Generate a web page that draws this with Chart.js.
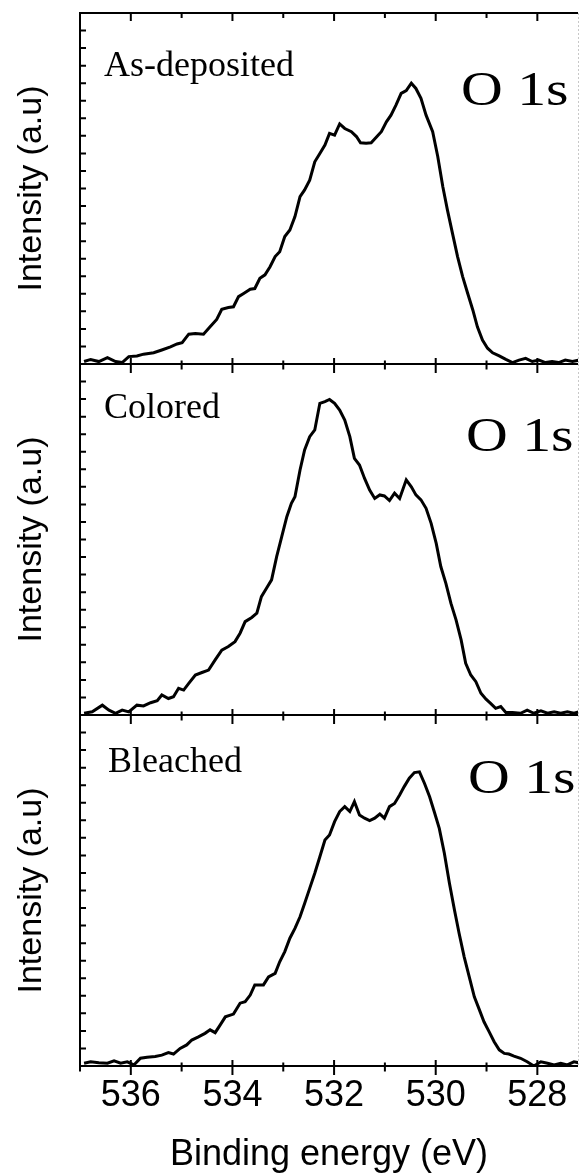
<!DOCTYPE html>
<html><head><meta charset="utf-8">
<script src="https://cdn.jsdelivr.net/npm/chart.js@4/dist/chart.umd.min.js"></script>
<style>
html,body{margin:0;padding:0;background:#fff;width:579px;height:1175px;overflow:hidden}
canvas{position:absolute;left:0;top:0}
</style></head>
<body>
<canvas id="c1" width="579" height="1175"></canvas>
<canvas id="c2" width="579" height="1175"></canvas>
<canvas id="c3" width="579" height="1175"></canvas>
<script>
// ---- data (binding energy in eV, intensity in a.u.) ----
const asDepositedEnergy = [536.92,536.79,536.63,536.46,536.30,536.17,536.04,535.88,535.75,535.55,535.39,535.22,535.09,534.99,534.86,534.73,534.57,534.44,534.31,534.21,534.08,533.98,533.88,533.78,533.65,533.56,533.46,533.36,533.26,533.16,533.07,532.97,532.87,532.77,532.67,532.58,532.48,532.38,532.28,532.18,532.09,531.99,531.89,531.79,531.66,531.56,531.48,531.37,531.27,531.17,531.07,530.97,530.88,530.78,530.68,530.58,530.48,530.39,530.29,530.19,530.06,529.96,529.86,529.77,529.67,529.57,529.47,529.37,529.27,529.18,529.08,528.98,528.88,528.75,528.62,528.49,528.36,528.23,528.10,527.97,527.84,527.71,527.58,527.45,527.31,527.18];
const asDepositedIntensity = [0.7,1.3,0.7,1.8,0.7,0.4,2.1,2.3,2.8,3.2,4.0,4.9,5.7,6.1,8.5,8.7,8.5,10.6,12.7,15.6,16.1,16.3,19.2,20.1,21.3,21.5,24.4,25.4,27.7,30.6,32.0,36.3,38.2,42.0,47.7,49.6,52.4,57.6,60.0,62.4,65.7,65.2,68.4,67.1,66.2,64.8,63.0,62.9,63.0,64.6,66.2,69.0,70.9,73.8,77.1,77.9,80.0,78.5,75.7,70.9,66.2,59.1,50.5,43.9,37.2,30.6,24.9,20.1,15.4,10.6,6.8,4.5,3.2,2.3,1.3,0.4,1.1,1.6,0.7,1.1,0.4,0.7,0.4,1.1,0.7,1.1];

const coloredEnergy = [536.92,536.76,536.56,536.43,536.30,536.17,536.04,535.88,535.75,535.61,535.48,535.39,535.26,535.16,535.06,534.96,534.86,534.73,534.60,534.47,534.34,534.21,534.08,533.95,533.85,533.75,533.62,533.52,533.43,533.33,533.23,533.13,533.03,532.93,532.84,532.77,532.67,532.58,532.48,532.38,532.28,532.18,532.09,531.99,531.89,531.79,531.69,531.60,531.50,531.40,531.30,531.20,531.10,531.01,530.91,530.81,530.71,530.58,530.48,530.39,530.29,530.19,530.09,529.99,529.90,529.80,529.70,529.60,529.50,529.41,529.31,529.21,529.11,529.01,528.92,528.82,528.72,528.62,528.49,528.33,528.20,528.07,527.93,527.80,527.67,527.54,527.41,527.28,527.18];
const coloredIntensity = [0.5,0.9,2.8,1.4,0.5,1.4,0.9,2.8,2.6,3.5,4.1,5.7,4.7,5.2,7.6,7.1,9.0,11.4,12.1,12.8,15.7,18.5,19.5,20.9,23.3,26.6,27.8,29.0,33.7,36.1,38.5,45.1,50.8,56.5,60.3,62.2,69.8,75.5,79.3,81.2,88.8,89.3,89.9,88.8,86.9,84.0,79.3,73.1,71.2,67.4,64.1,61.7,62.7,62.4,61.1,63.2,61.7,67.0,65.0,62.7,61.3,58.9,54.6,48.9,42.3,37.5,31.8,27.1,21.4,14.7,11.4,9.5,6.2,4.5,3.3,1.9,2.4,0.7,0.7,0.5,1.4,0.5,1.2,0.5,0.9,0.5,0.9,0.5,0.9];

const bleachedEnergy = [536.92,536.79,536.63,536.46,536.33,536.20,536.07,535.94,535.81,535.68,535.52,535.39,535.26,535.16,535.03,534.90,534.80,534.67,534.54,534.44,534.34,534.24,534.14,533.98,533.85,533.75,533.65,533.56,533.39,533.29,533.16,533.07,532.97,532.87,532.77,532.67,532.58,532.48,532.38,532.28,532.18,532.09,531.99,531.89,531.79,531.69,531.60,531.50,531.40,531.30,531.20,531.10,531.01,530.91,530.81,530.71,530.62,530.52,530.42,530.32,530.22,530.12,530.03,529.93,529.83,529.73,529.63,529.54,529.44,529.34,529.24,529.14,529.05,528.95,528.85,528.75,528.65,528.56,528.46,528.33,528.20,528.07,527.93,527.80,527.67,527.54,527.41,527.28,527.18];
const bleachedIntensity = [0.8,1.2,0.9,0.8,1.5,0.8,1.2,0.3,2.2,2.5,2.7,3.1,3.8,3.4,5.0,6.0,7.4,8.3,9.3,10.3,9.5,11.7,14.0,14.8,17.9,18.3,20.2,23.1,23.1,25.4,26.4,29.7,32.6,36.4,39.2,42.5,46.3,50.6,54.9,59.6,64.4,65.8,69.6,72.5,73.9,72.5,75.3,71.5,70.6,69.9,70.6,71.8,70.6,73.9,74.8,77.2,79.6,82.0,83.6,83.8,80.5,76.7,72.5,67.7,60.6,52.1,44.4,37.8,31.1,25.4,19.7,16.0,12.6,9.8,6.9,4.6,3.6,3.4,2.8,2.2,1.2,0.0,1.2,0.8,0.3,0.8,0.3,1.2,0.9];

const sampleNames = ['As-deposited', 'Colored', 'Bleached'];
const peakName = 'O 1s';
const xTickLabels = [536, 534, 532, 530, 528];
const xTitle = 'Binding energy (eV)';
const yTitle = 'Intensity (a.u)';
const energyMin = 527.2, energyMax = 537.0;
const intensityMin = 0, intensityMax = 100;

// ---- layout / style (not data) ----
const W = 579, H = 1175;
const panelBox = [{top: 13, bottom: 364}, {top: 364, bottom: 715}, {top: 715, bottom: 1066}];
const sampleLabelPos = [{dx: 24, dy: 63}, {dx: 24, dy: 54}, {dx: 28, dy: 57}];
const peakLabelPos = [{x: 461, y: 105}, {x: 466, y: 451}, {x: 468, y: 793}];
const SANS = '"Liberation Sans", Arial, Helvetica, sans-serif';
const SERIF = '"Liberation Serif", "Times New Roman", Times, serif';

const seriesList = [
  [asDepositedEnergy, asDepositedIntensity],
  [coloredEnergy, coloredIntensity],
  [bleachedEnergy, bleachedIntensity]
];

const framePlugin = {
  id: 'frame',
  afterDatasetsDraw(chart, args, opts) {
    const {ctx, chartArea: {left, right, top, bottom}, scales: {x, y}} = chart;
    ctx.save();
    ctx.strokeStyle = '#000';
    ctx.lineWidth = 2;
    ctx.beginPath();
    ctx.moveTo(left, top - (opts.first ? 1 : 0)); ctx.lineTo(left, bottom + 1);
    ctx.moveTo(left - 1, bottom); ctx.lineTo(right, bottom);
    if (opts.first) { ctx.moveTo(left - 1, top); ctx.lineTo(right, top); }
    for (let e = Math.ceil(x.min); e <= Math.floor(x.max); e++) {
      const px = x.getPixelForValue(e);
      const major = e % 2 === 0;
      ctx.moveTo(px, bottom - (major ? 6 : 3.5));
      ctx.lineTo(px, bottom + (major ? 9 : 5.5));
      if (opts.first) { ctx.moveTo(px, top); ctx.lineTo(px, top + (major ? 8 : 5)); }
    }
    for (let v = intensityMin + 5; v < intensityMax; v += 5) {
      const py = y.getPixelForValue(v);
      ctx.moveTo(left, py); ctx.lineTo(left + 6, py);
    }
    ctx.stroke();
    // faint right frame (cropped at image edge)
    ctx.strokeStyle = '#c8c8c8';
    ctx.lineWidth = 1;
    ctx.setLineDash([2, 2]);
    ctx.beginPath();
    ctx.moveTo(right + 0.5, top); ctx.lineTo(right + 0.5, bottom);
    ctx.stroke();
    ctx.setLineDash([]);
    // texts
    ctx.fillStyle = '#000';
    ctx.textBaseline = 'alphabetic';
    ctx.textAlign = 'left';
    ctx.font = '36px ' + SERIF;
    const sp = sampleLabelPos[opts.index];
    ctx.fillText(sampleNames[opts.index], left + sp.dx, top + sp.dy);
    const pp = peakLabelPos[opts.index];
    ctx.font = '49px ' + SERIF;
    ctx.translate(pp.x, pp.y);
    ctx.scale(1.18, 1);
    ctx.fillText(peakName, 0, 0);
    ctx.restore();
  }
};

function makeChart(i) {
  const [energies, intens] = seriesList[i];
  const pts = energies.map((e, k) => ({x: e, y: intens[k]}));
  const box = panelBox[i];
  const last = i === 2;
  return new Chart(document.getElementById('c' + (i + 1)), {
    type: 'line',
    data: {datasets: [{data: pts, borderColor: '#000', borderWidth: 3, pointRadius: 0, tension: 0, fill: false}]},
    plugins: [framePlugin],
    options: {
      responsive: false, animation: false, devicePixelRatio: 1,
      layout: {padding: {top: box.top, bottom: last ? 0 : H - box.bottom, left: 0, right: 1}},
      plugins: {legend: {display: false}, tooltip: {enabled: false}, frame: {index: i, first: i === 0}},
      scales: {
        x: {
          type: 'linear', min: energyMin, max: energyMax, reverse: true, display: last,
          grid: {display: false, drawTicks: false}, border: {display: false},
          ticks: {
            stepSize: 1, autoSkip: false, includeBounds: false, maxRotation: 0, padding: 8, color: '#000',
            font: {family: SANS, size: 36},
            callback: (v) => { const r = Math.round(v); return (Math.abs(v - r) < 1e-6 && xTickLabels.includes(r)) ? String(r) : ''; }
          },
          title: {display: true, text: xTitle, color: '#000', font: {family: SANS, size: 36, lineHeight: 1.08}, padding: {top: 0, bottom: 0}},
          afterFit: (s) => { if (last) s.height = H - panelBox[2].bottom; }
        },
        y: {
          min: intensityMin, max: intensityMax,
          grid: {display: false, drawTicks: false}, border: {display: false},
          ticks: {display: false},
          title: {display: true, text: yTitle, color: '#000', font: {family: SANS, size: 34}, padding: {top: 11, bottom: 0}},
          afterFit: (s) => { s.width = 80; }
        }
      }
    }
  });
}
[0, 1, 2].forEach(makeChart);
</script>
</body></html>
